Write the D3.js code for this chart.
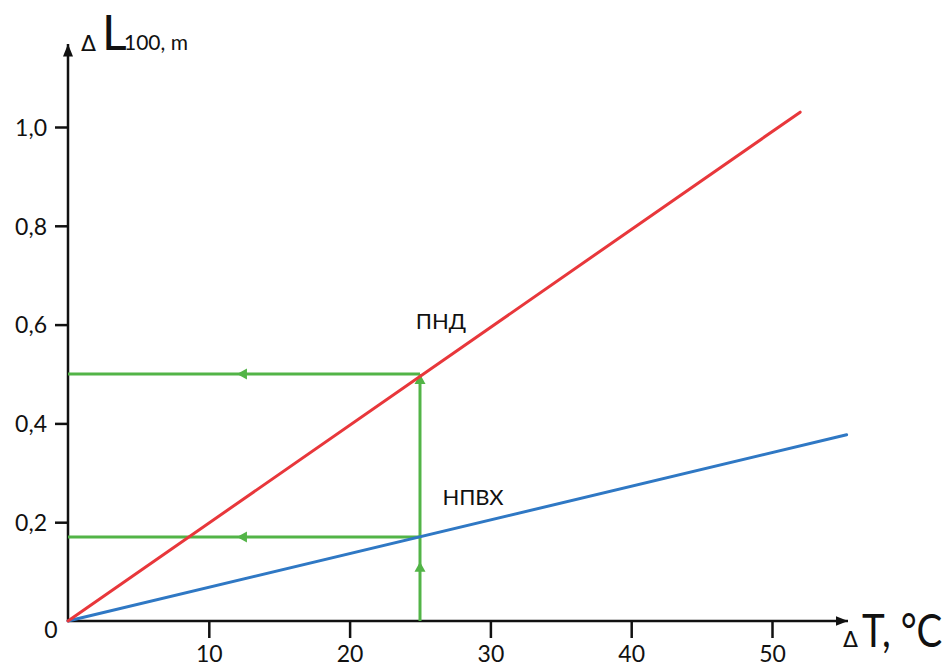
<!DOCTYPE html>
<html>
<head>
<meta charset="utf-8">
<script src="https://cdn.jsdelivr.net/npm/d3@7"></script>
<style>
  body { margin: 0; background: #fff; }
  text { font-family: Lato, "Open Sans", "DejaVu Sans", sans-serif; fill: #111; }
</style>
</head>
<body>
<div id="chart"></div>
<script>
// data
var xTicks = [10, 20, 30, 40, 50];
var yTicks = [0.2, 0.4, 0.6, 0.8, 1.0];
var pndLine = [[0, 0], [52, 1.03]];      // ПНД
var npvhLine = [[0, 0], [55.3, 0.377]];  // НПВХ
var guideT = 25;                          // ΔT used for the example
var guidePnd = 0.5;
var guideNpvh = 0.17;
var upArrows = [0.12, 0.5];               // where the arrowheads sit on the vertical guide
var leftArrowT = 12;                      // where the arrowheads sit on the horizontal guides

var w = 949, h = 670;

var svg = d3.select("#chart").append("svg")
    .attr("width", w)
    .attr("height", h);

var x = d3.scaleLinear().domain([0, 50]).range([68, 772]);
var y = d3.scaleLinear().domain([0, 1]).range([621, 127]);

var red = "#e8373b", blue = "#2f78c4", green = "#52b447";

// arrow marker for the axes
var defs = svg.append("defs");
defs.append("marker")
    .attr("id", "axisArrow")
    .attr("viewBox", "0 0 10 10")
    .attr("refX", 10).attr("refY", 5)
    .attr("markerWidth", 5).attr("markerHeight", 5)
    .attr("markerUnits", "strokeWidth")
    .attr("orient", "auto")
    .append("path").attr("d", "M0,1 L10,5 L0,9 Z").attr("fill", "#111");

// axes
var xAxis = d3.axisBottom(x).tickValues(xTicks).tickSize(17).tickPadding(8).tickFormat(d3.format("d"));
var gx = svg.append("g").attr("transform", "translate(0," + y(0) + ")").call(xAxis);
gx.select(".domain").remove();
gx.selectAll(".tick line").attr("stroke", "#111").attr("stroke-width", 2.5);
gx.selectAll(".tick text").attr("font-size", 23).attr("fill", "#111");

var yAxis = d3.axisLeft(y).tickValues(yTicks).tickSize(13).tickPadding(8)
    .tickFormat(function (d) { return d3.format(".1f")(d).replace(".", ","); });
var gy = svg.append("g").attr("transform", "translate(" + x(0) + ",0)").call(yAxis);
gy.select(".domain").remove();
gy.selectAll(".tick line").attr("stroke", "#111").attr("stroke-width", 2.5);
gy.selectAll(".tick text").attr("font-size", 23).attr("fill", "#111").attr("dy", "0.36em");

// axis lines with arrows
svg.append("line")
    .attr("x1", x(0)).attr("y1", y(0)).attr("x2", 848).attr("y2", y(0))
    .attr("stroke", "#111").attr("stroke-width", 2.5).attr("marker-end", "url(#axisArrow)");
svg.append("line")
    .attr("x1", x(0)).attr("y1", y(0)).attr("x2", x(0)).attr("y2", 44)
    .attr("stroke", "#111").attr("stroke-width", 2.5).attr("marker-end", "url(#axisArrow)");

// origin label
svg.append("text").attr("x", 51).attr("y", 638).attr("text-anchor", "middle")
    .attr("font-size", 23).text("0");

// green guide lines
var line = d3.line().x(function (d) { return x(d[0]); }).y(function (d) { return y(d[1]); });
var guides = [
    [[guideT, 0], [guideT, guidePnd]],
    [[guideT, guidePnd], [0, guidePnd]],
    [[guideT, guideNpvh], [0, guideNpvh]]
];
svg.selectAll(".guide").data(guides).enter().append("path")
    .attr("class", "guide")
    .attr("d", line)
    .attr("fill", "none").attr("stroke", green).attr("stroke-width", 3);

// up arrowheads on the vertical guide
svg.selectAll(".upArrow").data(upArrows).enter().append("path")
    .attr("class", "upArrow")
    .attr("transform", function (d) { return "translate(" + x(guideT) + "," + y(d) + ")"; })
    .attr("d", "M0,0 L-5.5,10 L5.5,10 Z")
    .attr("fill", green);

// left arrowheads on the horizontal guides
svg.selectAll(".leftArrow").data([guidePnd, guideNpvh]).enter().append("path")
    .attr("class", "leftArrow")
    .attr("transform", function (d) { return "translate(" + x(leftArrowT) + "," + y(d) + ")"; })
    .attr("d", "M0,0 L10,-5.5 L10,5.5 Z")
    .attr("fill", green);

// series lines
svg.append("path").datum(npvhLine).attr("d", line)
    .attr("fill", "none").attr("stroke", blue).attr("stroke-width", 3).attr("stroke-linecap", "round");
svg.append("path").datum(pndLine).attr("d", line)
    .attr("fill", "none").attr("stroke", red).attr("stroke-width", 3).attr("stroke-linecap", "round");

// series labels
svg.append("text").attr("x", 441).attr("y", 329).attr("text-anchor", "middle")
    .attr("font-size", 22).text("ПНД");
svg.append("text").attr("x", 473).attr("y", 505).attr("text-anchor", "middle")
    .attr("font-size", 22).text("НПВХ");

// y axis title
svg.append("text").attr("x", 81).attr("y", 51)
    .style("font-family", "'DejaVu Sans', sans-serif").style("font-size", "22px").text("Δ");
svg.append("text").attr("x", 102).attr("y", 50)
    .attr("font-size", 48).text("L");
svg.append("text").attr("x", 124).attr("y", 50)
    .attr("font-size", 21).text("100, m");

// x axis title
svg.append("text").attr("x", 843).attr("y", 647)
    .style("font-family", "'DejaVu Sans', sans-serif").style("font-size", "22px").text("Δ");
svg.append("text")
    .attr("transform", "translate(862,647) scale(0.82,1)")
    .attr("font-size", 47)
    .text("T, °C");
</script>
</body>
</html>
